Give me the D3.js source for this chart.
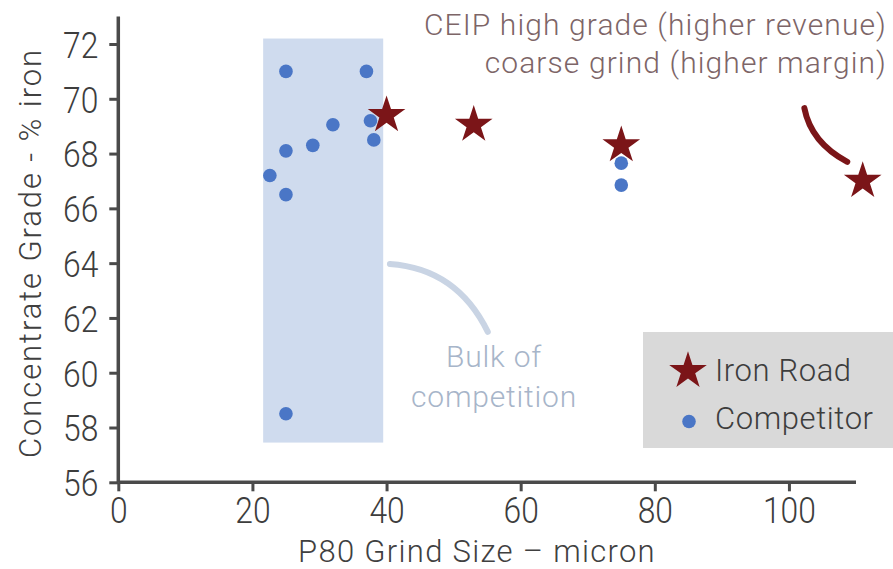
<!DOCTYPE html>
<html><head><meta charset="utf-8">
<script src="https://cdn.jsdelivr.net/npm/d3@7"></script>
<style>
body{margin:0;background:#fff;}
text{font-family:"Roboto",sans-serif;font-weight:300;}
</style></head>
<body><svg id="c" width="893" height="569"></svg>
<script>
// Data
const ironRoadX = [40, 53, 75, 111];
const ironRoadY = [69.4, 69.05, 68.3, 67.0];
const competitorX = [25, 37, 37.6, 32, 38.1, 29, 25, 22.6, 25, 25, 75, 75];
const competitorY = [71, 71, 69.2, 69.05, 68.5, 68.3, 68.1, 67.2, 66.5, 58.5, 67.65, 66.85];
const xTicks = [0, 20, 40, 60, 80, 100];
const yTicks = [56, 58, 60, 62, 64, 66, 68, 70, 72];
const bulkRange = {x0: 21.6, x1: 39.5, y0: 57.45, y1: 72.2};
const titleLines = ["CEIP high grade (higher revenue)", "coarse grind (higher margin)"];
const bulkLines = ["Bulk of", "competition"];
const legendLabels = ["Iron Road", "Competitor"];
const xLabel = "P80 Grind Size \u2013 micron";
const yLabel = "Concentrate Grade - % iron";
// annotation curves in data units: start, control, end
const maroonArc = [[102.3, 69.66], [103.3, 68.4], [108.7, 67.7]];
const blueArc = [[40.5, 63.97], [50.5, 63.8], [55.1, 61.49]];

const svg = d3.select("#c");
const x = d3.scaleLinear().domain([0, 110]).range([118.3, 856]);
const y = d3.scaleLinear().domain([56, 72]).range([482.3, 44]);

const axisCol = "#4a4a4a";
const red = "#7b1518";
const blue = "#4a76c6";

// narrow text helper: horizontal condensing around anchor
function condense(sel, k) {
  sel.each(function() {
    const t = d3.select(this);
    const bb = this.getBBox();
    const anchor = t.attr("text-anchor") || getComputedStyle(this).textAnchor || "start";
    let ax = bb.x;
    if (anchor === "middle") ax = bb.x + bb.width / 2;
    else if (anchor === "end") ax = bb.x + bb.width;
    const prev = t.attr("transform") || "";
    t.attr("transform", `${prev} translate(${ax},0) scale(${k},1) translate(${-ax},0)`);
  });
}

// shaded region
svg.append("rect")
  .attr("x", x(bulkRange.x0)).attr("y", y(bulkRange.y1))
  .attr("width", x(bulkRange.x1) - x(bulkRange.x0))
  .attr("height", y(bulkRange.y0) - y(bulkRange.y1))
  .attr("fill", "#cfdbee");

// axes
const xAxis = svg.append("g").attr("transform", `translate(0,${y(56)})`)
  .call(d3.axisBottom(x).tickValues(xTicks).tickSize(9).tickSizeOuter(0).tickPadding(5));
const yAxis = svg.append("g").attr("transform", `translate(${x(0)},0)`)
  .call(d3.axisLeft(y).tickValues(yTicks).tickSize(9).tickSizeOuter(0).tickPadding(11));
[xAxis, yAxis].forEach(g => {
  g.select(".domain").remove();
  g.selectAll(".tick line").attr("stroke", axisCol).attr("stroke-width", 3);
  g.selectAll(".tick text").attr("fill", "#3d3d3d").attr("font-size", 37)
    .style("font-family", "Roboto,sans-serif").style("font-weight", 300);
});
yAxis.selectAll(".tick text").attr("dy", "0.36em");
condense(xAxis.selectAll(".tick text"), 0.86);
condense(yAxis.selectAll(".tick text"), 0.86);
// axis lines
svg.append("line").attr("x1", x(0)).attr("x2", x(0)).attr("y1", y(73)).attr("y2", y(56))
  .attr("stroke", axisCol).attr("stroke-width", 3.5);
svg.append("line").attr("x1", x(0)).attr("x2", x(110)).attr("y1", y(56)).attr("y2", y(56))
  .attr("stroke", axisCol).attr("stroke-width", 3.5);

// axis labels
svg.append("text").attr("x", 477).attr("y", 562)
  .attr("text-anchor", "middle").attr("font-size", 31).attr("letter-spacing", 1.3)
  .attr("fill", "#404040").text(xLabel);
svg.append("text").attr("transform", `translate(41,253) rotate(-90)`)
  .attr("text-anchor", "middle").attr("font-size", 31).attr("letter-spacing", 1.9)
  .attr("fill", "#404040").text(yLabel);

// curves
const curve = pts => `M${x(pts[0][0])},${y(pts[0][1])} Q${x(pts[1][0])},${y(pts[1][1])} ${x(pts[2][0])},${y(pts[2][1])}`;
svg.append("path").attr("d", curve(blueArc)).attr("fill", "none")
  .attr("stroke", "#c9d4e4").attr("stroke-width", 6).attr("stroke-linecap", "round");
svg.append("path").attr("d", curve(maroonArc)).attr("fill", "none")
  .attr("stroke", red).attr("stroke-width", 6).attr("stroke-linecap", "round");

// competitor dots
svg.append("g").selectAll("circle").data(competitorX).join("circle")
  .attr("cx", d => x(d)).attr("cy", (d, i) => y(competitorY[i])).attr("r", 6.8).attr("fill", blue);

// stars
const star = d3.symbol().type(d3.symbolStar).size(440);
svg.append("g").selectAll("path").data(ironRoadX).join("path")
  .attr("transform", (d, i) => `translate(${x(d)},${y(ironRoadY[i])})`)
  .attr("d", star).attr("fill", red);

// title annotation
svg.append("text").attr("text-anchor", "end").attr("font-size", 30).attr("letter-spacing", 1.1)
  .attr("fill", "#7d6567")
  .selectAll("tspan").data(titleLines).join("tspan")
  .attr("x", 887).attr("y", (d, i) => 35 + i * 38).text(d => d);

// bulk annotation
svg.append("text").attr("text-anchor", "middle").attr("font-size", 30).attr("letter-spacing", 0.8)
  .attr("fill", "#a7b5c9")
  .selectAll("tspan").data(bulkLines).join("tspan")
  .attr("x", 494).attr("y", (d, i) => 367 + i * 40).text(d => d);

// legend
svg.append("rect").attr("x", 643).attr("y", 332).attr("width", 250).attr("height", 116).attr("fill", "#d9d9d9");
svg.append("path").attr("transform", "translate(688,371)").attr("d", d3.symbol().type(d3.symbolStar).size(440)).attr("fill", red);
svg.append("circle").attr("cx", 689).attr("cy", 421.5).attr("r", 6.8).attr("fill", blue);
svg.append("g").selectAll("text").data(legendLabels).join("text")
  .attr("x", 715).attr("y", (d, i) => 381 + i * 48).attr("font-size", 31).attr("letter-spacing", 0.6)
  .attr("fill", "#3d3d3d").text(d => d);
</script></body></html>
